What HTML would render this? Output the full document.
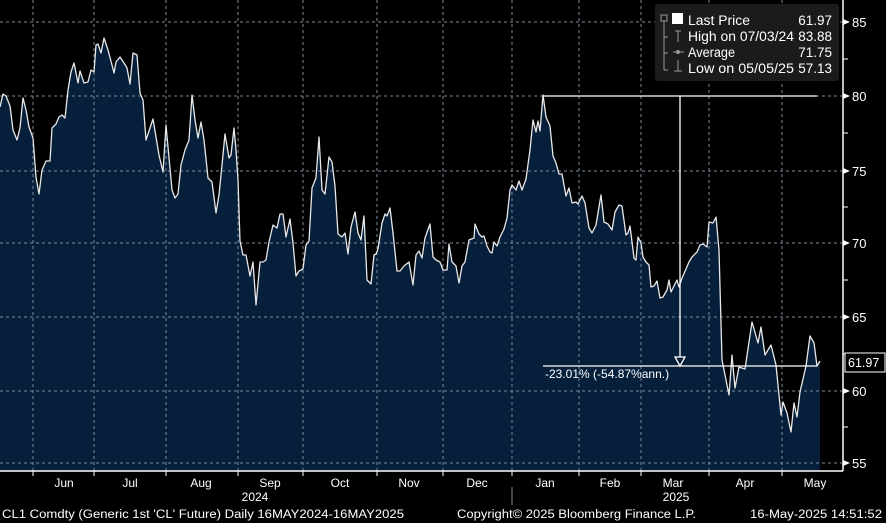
<!DOCTYPE html>
<html><head><meta charset="utf-8"><style>
html,body{margin:0;padding:0;background:#000;}
svg{display:block;font-family:"Liberation Sans",sans-serif;}
</style></head><body>
<svg width="886" height="523" viewBox="0 0 886 523" xmlns="http://www.w3.org/2000/svg">
<rect width="886" height="523" fill="#000"/>
<path fill="#061f3b" d="M0,471 L0,107 L3,94 L6,96 L10,106 L13,130 L17,140 L20,128 L23,98 L26,110 L29,127 L33,138 L36,177 L39,194 L42,170 L46,161 L50,161 L52,128 L56,124 L59,117 L62,115 L65,118 L68,90 L71,72 L74,63 L78,83 L80,71 L84,83 L88,82 L91,70 L94,72 L96,45 L98,44 L101,53 L104,38 L108,50 L112,65 L114,73 L116,62 L120,57 L124,63 L127,68 L130,84 L133,53 L137,55 L140,93 L143,100 L146,140 L150,128 L153,119 L156,137 L159,155 L163,172 L166,125 L168,147 L172,190 L175,198 L178,194 L181,165 L185,150 L189,140 L192,95 L195,120 L198,138 L201,122 L204,140 L208,178 L212,182 L216,213 L219,195 L222,165 L225,134 L229,158 L231,155 L234,128 L236,150 L238,180 L240,241 L243,255 L246,255 L250,276 L253,262 L256,305 L260,262 L263,262 L266,260 L269,242 L273,225 L277,228 L280,214 L283,214 L286,237 L290,219 L293,243 L296,276 L299,271 L303,269 L306,245 L309,241 L312,188 L316,178 L319,137 L322,190 L325,194 L329,157 L332,162 L335,186 L338,234 L342,237 L345,233 L348,254 L351,227 L355,212 L358,233 L361,240 L364,216 L367,280 L371,284 L374,255 L376,254 L378,249 L382,223 L385,214 L387,216 L390,208 L393,233 L397,271 L400,271 L404,266 L409,262 L413,285 L416,255 L419,251 L422,258 L425,238 L430,224 L433,257 L436,260 L440,262 L443,270 L447,270 L449,244 L452,262 L456,266 L459,283 L462,266 L465,262 L469,240 L474,238 L475,224 L479,234 L482,237 L484,236 L487,246 L490,252 L492,253 L494,242 L497,246 L500,237 L504,229 L507,218 L510,190 L512,185 L516,190 L519,181 L522,190 L526,179 L530,150 L533,120 L536,132 L538,121 L540,131 L543,95 L546,117 L550,126 L553,156 L556,163 L559,174 L562,174 L566,196 L569,188 L572,203 L576,202 L578,204 L582,196 L585,203 L589,228 L592,233 L596,225 L599,207 L601,195 L604,222 L608,224 L612,230 L615,212 L619,205 L622,206 L626,235 L628,233 L630,226 L634,258 L636,260 L638,237 L641,243 L643,257 L646,262 L649,265 L651,287 L654,286 L657,281 L660,298 L663,297 L667,290 L669,280 L671,292 L674,286 L677,280 L679,287 L682,278 L686,269 L689,262 L692,257 L697,252 L700,245 L703,244 L707,247 L709,222 L713,223 L716,217 L719,250 L722,360 L729,395 L732,355 L735,388 L739,367 L745,369 L752,322 L758,343 L761,327 L765,355 L771,345 L776,365 L781,415 L783,402 L787,413 L791,432 L794,403 L797,417 L800,392 L806,366 L810,336 L814,343 L817,366 L820,361 L820,471 Z"/>
<g stroke="#7d8a99" stroke-width="1" stroke-dasharray="3,3">
<line x1="0" y1="22" x2="842" y2="22"/><line x1="0" y1="96" x2="842" y2="96"/><line x1="0" y1="171" x2="842" y2="171"/><line x1="0" y1="243" x2="842" y2="243"/><line x1="0" y1="317" x2="842" y2="317"/><line x1="0" y1="391" x2="842" y2="391"/><line x1="0" y1="463" x2="842" y2="463"/>
<line x1="33" y1="0" x2="33" y2="471"/><line x1="94" y1="0" x2="94" y2="471"/><line x1="166" y1="0" x2="166" y2="471"/><line x1="238" y1="0" x2="238" y2="471"/><line x1="303" y1="0" x2="303" y2="471"/><line x1="377" y1="0" x2="377" y2="471"/><line x1="443" y1="0" x2="443" y2="471"/><line x1="512" y1="0" x2="512" y2="471"/><line x1="579" y1="0" x2="579" y2="471"/><line x1="641" y1="0" x2="641" y2="471"/><line x1="709" y1="0" x2="709" y2="471"/><line x1="782" y1="0" x2="782" y2="471"/>
</g>
<polyline fill="none" stroke="#e8e8e8" stroke-width="1.3" stroke-linejoin="round" points="0,107 3,94 6,96 10,106 13,130 17,140 20,128 23,98 26,110 29,127 33,138 36,177 39,194 42,170 46,161 50,161 52,128 56,124 59,117 62,115 65,118 68,90 71,72 74,63 78,83 80,71 84,83 88,82 91,70 94,72 96,45 98,44 101,53 104,38 108,50 112,65 114,73 116,62 120,57 124,63 127,68 130,84 133,53 137,55 140,93 143,100 146,140 150,128 153,119 156,137 159,155 163,172 166,125 168,147 172,190 175,198 178,194 181,165 185,150 189,140 192,95 195,120 198,138 201,122 204,140 208,178 212,182 216,213 219,195 222,165 225,134 229,158 231,155 234,128 236,150 238,180 240,241 243,255 246,255 250,276 253,262 256,305 260,262 263,262 266,260 269,242 273,225 277,228 280,214 283,214 286,237 290,219 293,243 296,276 299,271 303,269 306,245 309,241 312,188 316,178 319,137 322,190 325,194 329,157 332,162 335,186 338,234 342,237 345,233 348,254 351,227 355,212 358,233 361,240 364,216 367,280 371,284 374,255 376,254 378,249 382,223 385,214 387,216 390,208 393,233 397,271 400,271 404,266 409,262 413,285 416,255 419,251 422,258 425,238 430,224 433,257 436,260 440,262 443,270 447,270 449,244 452,262 456,266 459,283 462,266 465,262 469,240 474,238 475,224 479,234 482,237 484,236 487,246 490,252 492,253 494,242 497,246 500,237 504,229 507,218 510,190 512,185 516,190 519,181 522,190 526,179 530,150 533,120 536,132 538,121 540,131 543,95 546,117 550,126 553,156 556,163 559,174 562,174 566,196 569,188 572,203 576,202 578,204 582,196 585,203 589,228 592,233 596,225 599,207 601,195 604,222 608,224 612,230 615,212 619,205 622,206 626,235 628,233 630,226 634,258 636,260 638,237 641,243 643,257 646,262 649,265 651,287 654,286 657,281 660,298 663,297 667,290 669,280 671,292 674,286 677,280 679,287 682,278 686,269 689,262 692,257 697,252 700,245 703,244 707,247 709,222 713,223 716,217 719,250 722,360 729,395 732,355 735,388 739,367 745,369 752,322 758,343 761,327 765,355 771,345 776,365 781,415 783,402 787,413 791,432 794,403 797,417 800,392 806,366 810,336 814,343 817,366 820,361"/>
<g stroke="#fff" stroke-width="1.3" fill="none">
<line x1="543" y1="96" x2="817" y2="96"/>
<line x1="680" y1="96" x2="680" y2="357"/>
<polygon points="675,357 685,357 680,366"/>
<line x1="543" y1="366" x2="817" y2="366"/>
</g>
<text x="545" y="378" fill="#fff" font-size="12">-23.01% (-54.87%ann.)</text>
<line x1="0" y1="471" x2="843" y2="471" stroke="#fff" stroke-width="1.5"/>
<line x1="843" y1="0" x2="843" y2="471" stroke="#fff" stroke-width="1.5"/>
<g stroke="#fff" stroke-width="1">
<line x1="33" y1="471" x2="33" y2="476"/><line x1="94" y1="471" x2="94" y2="476"/><line x1="166" y1="471" x2="166" y2="476"/><line x1="238" y1="471" x2="238" y2="476"/><line x1="303" y1="471" x2="303" y2="476"/><line x1="377" y1="471" x2="377" y2="476"/><line x1="443" y1="471" x2="443" y2="476"/><line x1="512" y1="471" x2="512" y2="476"/><line x1="579" y1="471" x2="579" y2="476"/><line x1="641" y1="471" x2="641" y2="476"/><line x1="709" y1="471" x2="709" y2="476"/><line x1="782" y1="471" x2="782" y2="476"/>
<line x1="843" y1="59" x2="848" y2="59"/><line x1="843" y1="133" x2="848" y2="133"/><line x1="843" y1="207" x2="848" y2="207"/><line x1="843" y1="280" x2="848" y2="280"/><line x1="843" y1="354" x2="848" y2="354"/><line x1="843" y1="427" x2="848" y2="427"/>
<line x1="512" y1="487" x2="512" y2="505" stroke="#888"/>
</g>
<g fill="#fff">
<polygon points="843,19 850,22 843,25"/><polygon points="843,93 850,96 843,99"/><polygon points="843,168 850,171 843,174"/><polygon points="843,240 850,243 843,246"/><polygon points="843,314 850,317 843,320"/><polygon points="843,388 850,391 843,394"/><polygon points="843,460 850,463 843,466"/>
</g>
<g fill="#fff" font-size="13">
<text x="852" y="27">85</text><text x="852" y="101">80</text><text x="852" y="176">75</text><text x="852" y="248">70</text><text x="852" y="322">65</text><text x="852" y="396">60</text><text x="852" y="468">55</text>
</g>
<rect x="845" y="353" width="40" height="19" fill="#000" stroke="#fff" stroke-width="1"/>
<text x="848" y="367" fill="#fff" font-size="12.5">61.97</text>
<g fill="#fff" font-size="12" text-anchor="middle">
<text x="64" y="487">Jun</text><text x="130" y="487">Jul</text><text x="201" y="487">Aug</text><text x="270" y="487">Sep</text><text x="340" y="487">Oct</text><text x="409" y="487">Nov</text><text x="477" y="487">Dec</text><text x="545" y="487">Jan</text><text x="610" y="487">Feb</text><text x="673" y="487">Mar</text><text x="745" y="487">Apr</text><text x="815" y="487">May</text>
<text x="255" y="501">2024</text><text x="676" y="501">2025</text>
</g>
<g fill="#fff" font-size="11.5">
<text x="2" y="518" textLength="402" lengthAdjust="spacingAndGlyphs">CL1 Comdty (Generic 1st 'CL' Future)  Daily 16MAY2024-16MAY2025</text>
<text x="457" y="518" textLength="239" lengthAdjust="spacingAndGlyphs">Copyright© 2025 Bloomberg Finance L.P.</text>
<text x="750" y="518" textLength="132" lengthAdjust="spacingAndGlyphs">16-May-2025 14:51:52</text>
</g>
<rect x="655" y="4" width="184" height="77" rx="3" fill="#1b1b1b"/>
<g stroke="#999" fill="none" stroke-width="1">
<rect x="661" y="15" width="6" height="6"/>
<line x1="664" y1="21" x2="664" y2="70"/><line x1="664" y1="37" x2="668" y2="37"/><line x1="664" y1="53" x2="668" y2="53"/><line x1="664" y1="70" x2="668" y2="70"/>
<line x1="678" y1="31" x2="678" y2="42"/><line x1="675" y1="31" x2="681" y2="31"/>
<line x1="673" y1="52" x2="684" y2="52"/><circle cx="678" cy="52" r="1.5" fill="#999"/>
<line x1="678" y1="60" x2="678" y2="71"/><line x1="674" y1="71" x2="682" y2="71"/>
</g>
<rect x="672" y="13" width="11" height="11" fill="#fff"/>
<g fill="#fff" font-size="13.5">
<text x="688" y="25" textLength="62" lengthAdjust="spacingAndGlyphs">Last Price</text><text x="688" y="41" textLength="106" lengthAdjust="spacingAndGlyphs">High on 07/03/24</text><text x="688" y="57" textLength="47" lengthAdjust="spacingAndGlyphs">Average</text><text x="688" y="73" textLength="106" lengthAdjust="spacingAndGlyphs">Low on 05/05/25</text>
</g>
<g fill="#fff" font-size="13.5" text-anchor="end">
<text x="832" y="25">61.97</text><text x="832" y="41">83.88</text><text x="832" y="57">71.75</text><text x="832" y="73">57.13</text>
</g>
</svg>
</body></html>
